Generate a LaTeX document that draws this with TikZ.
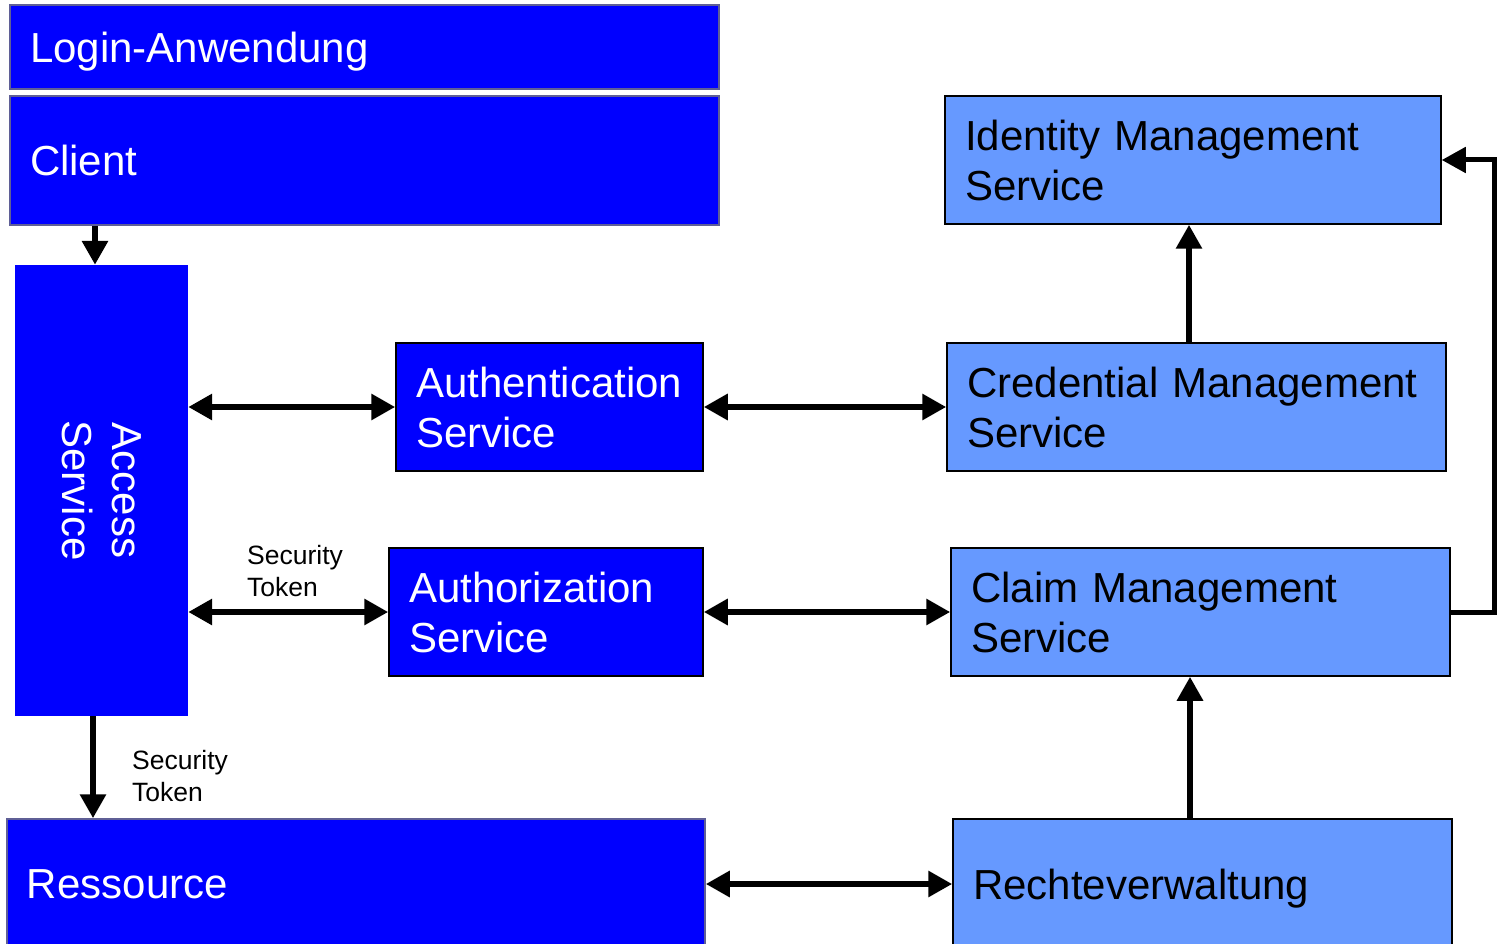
\documentclass[tikz,border=0pt]{standalone}
\usepackage{fontspec}
\setmainfont{Liberation Sans}
\usetikzlibrary{arrows.meta}

\definecolor{darkbox}{RGB}{0,0,255}
\definecolor{lightbox}{RGB}{102,153,255}
\definecolor{edgegray}{RGB}{95,95,150}

\tikzset{
	dark/.style={fill=darkbox, text=white, font=\fontsize{42}{50}\selectfont, align=left, inner xsep=20pt, inner ysep=0pt},
	light/.style={fill=lightbox, draw=black, line width=1.5pt, text=black, font=\fontsize{42}{50}\selectfont, align=left, inner xsep=20pt, inner ysep=0pt},
	arrow/.style={-{Triangle[length=24pt,width=25pt]}, line width=6.5pt},
	twoway/.style={{Triangle[length=24pt,width=25pt]}-{Triangle[length=24pt,width=25pt]}, line width=6.5pt},
	tag/.style={font=\fontsize{26.5}{32}\selectfont, align=left, inner sep=0pt, anchor=west}
}

\begin{document}
\begin{tikzpicture}[x=1pt,y=-1pt]
\useasboundingbox (0,0) rectangle (1497,944);

\node (login) at (364.5,47) [dark,draw=edgegray,line width=1.2pt,text width=669pt,text depth=0pt,minimum height=84pt] {Login-Anwendung};
\node (client) at (364.5,160.5) [dark,draw=edgegray,line width=1.2pt,text width=669pt,text depth=0pt,minimum height=129pt] {Client};
\node (access) at (101.5,490.5) [dark,rotate=-90,align=center,inner xsep=0pt,minimum width=451pt,minimum height=173pt] {Access\\Service};
\node (authn) at (549.5,407) [dark,draw=black,line width=1.5pt,text width=267pt,minimum height=128pt] {Authentication\\Service};
\node (authz) at (546,612) [dark,draw=black,line width=1.5pt,text width=274pt,minimum height=128pt] {Authorization\\Service};
\node (ressource) at (356,884) [dark,draw=edgegray,line width=1.5pt,text width=658pt,text depth=0pt,minimum height=130pt] {Ressource};

\node (idm) at (1193,160) [light,text width=456pt,minimum height=128pt] {Identity Management\\Service};
\node (cred) at (1196.5,407) [light,text width=459pt,minimum height=128pt] {Credential Management\\Service};
\node (claim) at (1200.5,612) [light,text width=459pt,minimum height=128pt] {Claim Management\\Service};
\node (recht) at (1202.5,884) [light,text width=459pt,text depth=0pt,minimum height=130pt] {Rechteverwaltung};

\node (tok1) at (247,571) [tag] {Security\\Token};
\node (tok2) at (132,776) [tag] {Security\\Token};

\coordinate (cdown) at ([xshift=-6.5pt]access.west);
\coordinate (adown) at ([xshift=-8.5pt]access.east);
\coordinate (cup) at ([xshift=-7.5pt]cred.north);
\coordinate (rup) at ([xshift=-12.5pt]recht.north);

\draw [arrow] (cdown |- client.south) -- (cdown);
\draw [arrow] (adown) -- (adown |- ressource.north);

\draw [twoway] (access.north |- authn.west) -- (authn.west);
\draw [twoway] (authn.east) -- (cred.west);
\draw [twoway] (access.north |- authz.west) -- (authz.west);
\draw [twoway] (authz.east) -- (claim.west);
\draw [twoway] (ressource.east) -- (recht.west);

\draw [arrow] (cup) -- (cup |- idm.south);
\draw [arrow] (rup) -- (rup |- claim.south);
\draw [arrow,line width=5pt] (claim.east) -- ++(44,0) |- (idm.east);
\end{tikzpicture}
\end{document}
